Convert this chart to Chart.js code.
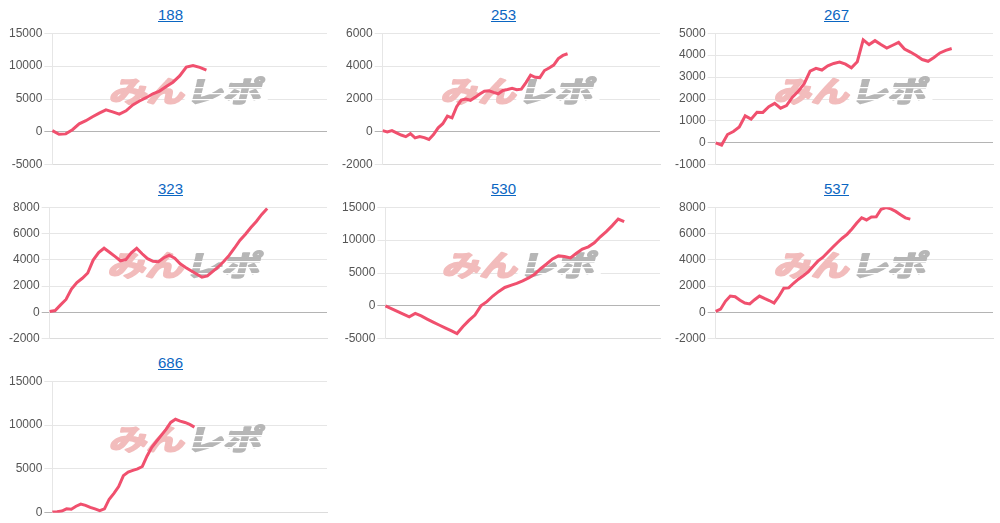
<!DOCTYPE html>
<html>
<head>
<meta charset="utf-8">
<script src="https://cdn.jsdelivr.net/npm/chart.js@4"></script>
<style>
  body { margin: 0; background: #fff; width: 1000px; height: 523px; overflow: hidden;
         font-family: "Liberation Sans", Arial, Helvetica, sans-serif; }
  .cell { position: absolute; width: 333px; height: 174px; }
  .cell a { position: absolute; left: 0; right: 0; top: 6px; text-align: center;
            font-size: 15px; color: #0b66c2; text-decoration: underline; }
  .cell canvas { position: absolute; left: 0; top: 24px; }
</style>
</head>
<body>
<div id="grid"></div>
<script>
// Chart titles (report ids) in display order
const titles = ['188', '253', '267', '323', '530', '537', '686'];

// Number of days on each x axis (the line stops where data ends)
const dayCounts = [42, 61, 48, 52, 47, 58, 59];

// Y axis ranges: [min, max, step]
const yRanges = [
    [-5000, 15000, 5000],
    [-2000, 6000, 2000],
    [-1000, 5000, 1000],
    [-2000, 8000, 2000],
    [-5000, 15000, 5000],
    [-2000, 8000, 2000],
    [0, 15000, 5000]
];

// Cumulative balance per day
const balance188 = [200, -350, -300, 330, 1220, 1700, 2300, 2850, 3350, 3050, 2700, 3200,
    4100, 4700, 5200, 5800, 6200, 6900, 7550, 8500, 9850, 10100, 9800, 9400];
const balance253 = [80, 0, 80, -60, -190, -290, -110, -360, -280, -350, -460, -160, 250,
    500, 960, 850, 1530, 1930, 2000, 1920, 2100, 2300, 2470, 2500, 2400, 2320, 2520, 2580,
    2650, 2570, 2600, 3000, 3450, 3320, 3300, 3730, 3880, 4060, 4460, 4650, 4750];
const balance267 = [0, -100, 380, 520, 720, 1230, 1080, 1400, 1390, 1650, 1800, 1580, 1700,
    2080, 2350, 2700, 3270, 3400, 3320, 3510, 3620, 3680, 3590, 3420, 3700, 4700, 4480, 4660,
    4480, 4320, 4450, 4580, 4280, 4140, 3980, 3800, 3720, 3890, 4100, 4220, 4300];
const balance323 = [80, 150, 580, 990, 1780, 2270, 2600, 3000, 3980, 4550, 4880, 4580, 4260,
    3930, 4020, 4530, 4880, 4460, 4090, 3890, 3860, 4160, 4360, 4130, 3700, 3420, 3170, 2920,
    2680, 2780, 3130, 3460, 3870, 4340, 4900, 5490, 5950, 6460, 6920, 7450, 7900];
const balance530 = [0, -400, -830, -1250, -1650, -1150, -1530, -2000, -2460, -2900, -3330,
    -3770, -4200, -3140, -2210, -1400, 0, 650, 1500, 2200, 2800, 3120, 3420, 3790, 4250, 4800,
    5650, 6370, 7140, 7600, 7520, 7300, 8000, 8640, 8980, 9580, 10500, 11300, 12200, 13200, 12800];
const balance537 = [80, 250, 850, 1250, 1200, 930, 720, 650, 970, 1250, 1070, 910, 720, 1230,
    1840, 1870, 2220, 2530, 2790, 3080, 3500, 3900, 4180, 4560, 4940, 5300, 5640, 5940, 6350,
    6800, 7200, 7030, 7250, 7270, 7840, 7970, 7870, 7680, 7430, 7190, 7090];
const balance686 = [80, 120, 200, 450, 410, 750, 1000, 850, 620, 440, 250, 450, 1550, 2220,
    3000, 4230, 4650, 4830, 5010, 5280, 6480, 7460, 8150, 8820, 9500, 10300, 10660, 10450,
    10300, 10080, 9770];

const balances = [balance188, balance253, balance267, balance323, balance530, balance537, balance686];

// Watermark drawn in the middle of the plot area, behind the line
const watermark = {
    id: 'watermark',
    beforeDatasetsDraw(chart) {
        const { ctx, chartArea } = chart;
        const cx = (chartArea.left + chartArea.right) / 2 - 3;
        const cy = (chartArea.top + chartArea.bottom) / 2 - 8;
        ctx.save();
        ctx.translate(cx, cy);
        ctx.transform(1.3, 0, -0.25, 1, 0, 0);
        ctx.font = 'bold 29px "Noto Sans CJK JP"';
        ctx.textBaseline = 'middle';
        ctx.lineJoin = 'round';
        ctx.lineWidth = 2;
        ctx.textAlign = 'right';
        ctx.fillStyle = ctx.strokeStyle = '#f2bcbc';
        ctx.fillText('みん', 0, 0);
        ctx.strokeText('みん', 0, 0);
        ctx.textAlign = 'left';
        ctx.fillStyle = ctx.strokeStyle = '#b6b6b6';
        ctx.fillText('レポ', 1, 0);
        ctx.strokeText('レポ', 1, 0);
        // speed stripes through the grey half
        ctx.fillStyle = '#fff';
        ctx.fillRect(0, -4, 64, 1.2);
        ctx.fillRect(0, 2, 64, 1.2);
        ctx.fillRect(0, 8, 64, 1.2);
        ctx.restore();
    }
};

const grid = document.getElementById('grid');

titles.forEach((title, i) => {
    const col = i % 3;
    const row = Math.floor(i / 3);
    const cell = document.createElement('div');
    cell.className = 'cell';
    cell.style.left = (4 + col * 333) + 'px';
    cell.style.top = (row * 174) + 'px';
    const link = document.createElement('a');
    link.href = '#';
    link.textContent = title;
    const canvas = document.createElement('canvas');
    canvas.width = 333;
    canvas.height = 150;
    cell.appendChild(link);
    cell.appendChild(canvas);
    grid.appendChild(cell);

    const labels = [];
    for (let d = 1; d <= dayCounts[i]; d++) labels.push(d);
    const [yMin, yMax, yStep] = yRanges[i];

    new Chart(canvas.getContext('2d'), {
        type: 'line',
        data: {
            labels: labels,
            datasets: [{
                data: balances[i],
                borderColor: 'rgb(240, 80, 110)',
                borderWidth: 3,
                pointRadius: 0,
                tension: 0,
                fill: false
            }]
        },
        options: {
            responsive: false,
            animation: false,
            layout: { padding: { left: 3, right: 10, top: 0, bottom: 0 } },
            plugins: {
                legend: { display: false },
                tooltip: { enabled: false }
            },
            scales: {
                x: {
                    ticks: { display: false },
                    grid: { display: false },
                    border: { display: true, color: '#dcdcdc' }
                },
                y: {
                    min: yMin,
                    max: yMax,
                    ticks: {
                        stepSize: yStep,
                        padding: 2,
                        color: '#555',
                        font: { size: 12, family: '"Liberation Sans", Arial, sans-serif' },
                        callback: v => String(v)
                    },
                    grid: {
                        color: c => (c.tick && c.tick.value === 0) ? '#b4b4b4' : '#e6e6e6'
                    },
                    border: { color: '#e6e6e6' }
                }
            }
        },
        plugins: [watermark]
    });
});
</script>
</body>
</html>
